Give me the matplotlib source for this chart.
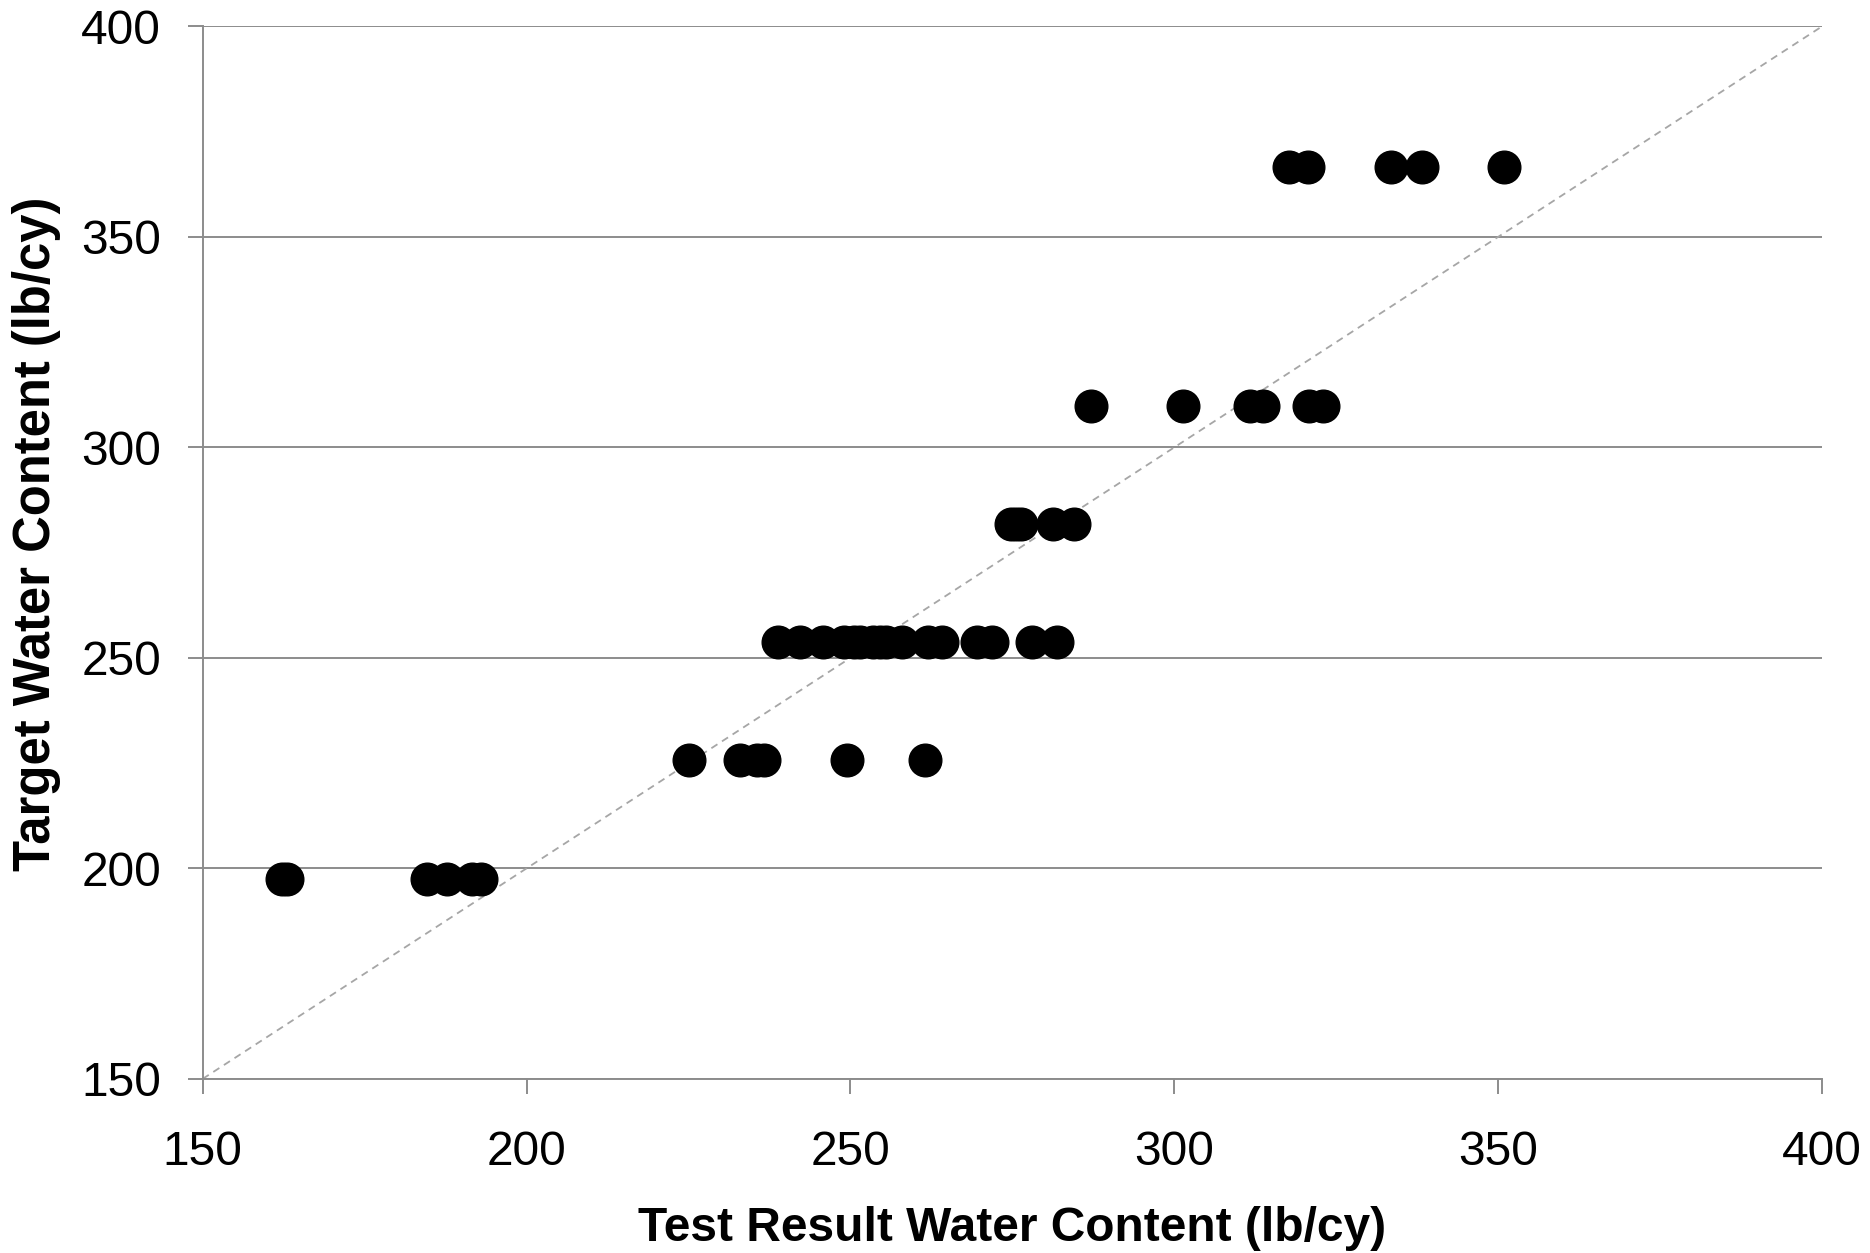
import matplotlib
matplotlib.use("Agg")
import matplotlib.pyplot as plt

plt.rcParams['font.family'] = ['Liberation Sans', 'DejaVu Sans']

row197_x = [162.3, 163.0, 184.7, 187.7, 191.6, 193.0]
row197_y = 197.5
row225_x = [225.0, 232.9, 235.5, 236.6, 249.4, 261.5]
row225_y = 225.7
row254_x = [238.8, 242.2, 245.7, 249.0, 250.5, 251.5, 253.5, 254.5, 255.5,
            258.0, 262.0, 264.2, 269.5, 271.8, 278.0, 281.9]
row254_y = 253.8
row282_x = [274.8, 275.6, 276.4, 281.3, 284.5]
row282_y = 281.9
row310_x = [287.1, 301.3, 311.6, 313.7, 320.8, 322.9]
row310_y = 309.9
row367_x = [317.7, 320.6, 333.4, 338.2, 350.9]
row367_y = 366.5

rows = [(row197_x, row197_y), (row225_x, row225_y), (row254_x, row254_y),
        (row282_x, row282_y), (row310_x, row310_y), (row367_x, row367_y)]

xs = [x for r, y in rows for x in r]
ys = [y for r, y in rows for _ in r]

ticks = [150, 200, 250, 300, 350, 400]

fig = plt.figure(figsize=(18.7, 12.53), dpi=100)
ax = fig.add_axes([0.1084, 0.139, 0.866, 0.840])
ax.set_xlim(150, 400)
ax.set_ylim(150, 400)

gray = '#8c8c8c'
ax.set_yticks(ticks)
ax.set_xticks(ticks)
ax.yaxis.grid(True, color=gray, linewidth=1.4)
ax.set_axisbelow(True)
ax.plot([150, 400], [150, 400], linestyle=(0, (4, 3)), color='#a6a6a6', linewidth=1.3, zorder=2)
ax.plot(xs, ys, 'o', color='black', markersize=23.5, linestyle='none', zorder=3)

for s in ['top', 'right']:
    ax.spines[s].set_visible(False)
for s in ['left', 'bottom']:
    ax.spines[s].set_color(gray)
    ax.spines[s].set_linewidth(1.4)
ax.tick_params(axis='both', direction='out', length=11, width=1.4, color=gray,
               labelsize=34.5)
ax.tick_params(axis='y', pad=19)
ax.tick_params(axis='x', pad=26)

ax.set_xlabel('Test Result Water Content (lb/cy)', fontsize=34.5, fontweight='bold', labelpad=22)
ax.set_ylabel('Target Water Content (lb/cy)', fontsize=36.5, fontweight='bold')
ax.yaxis.set_label_coords(-0.0875, 0.518)

fig.savefig('out.png', dpi=100)
